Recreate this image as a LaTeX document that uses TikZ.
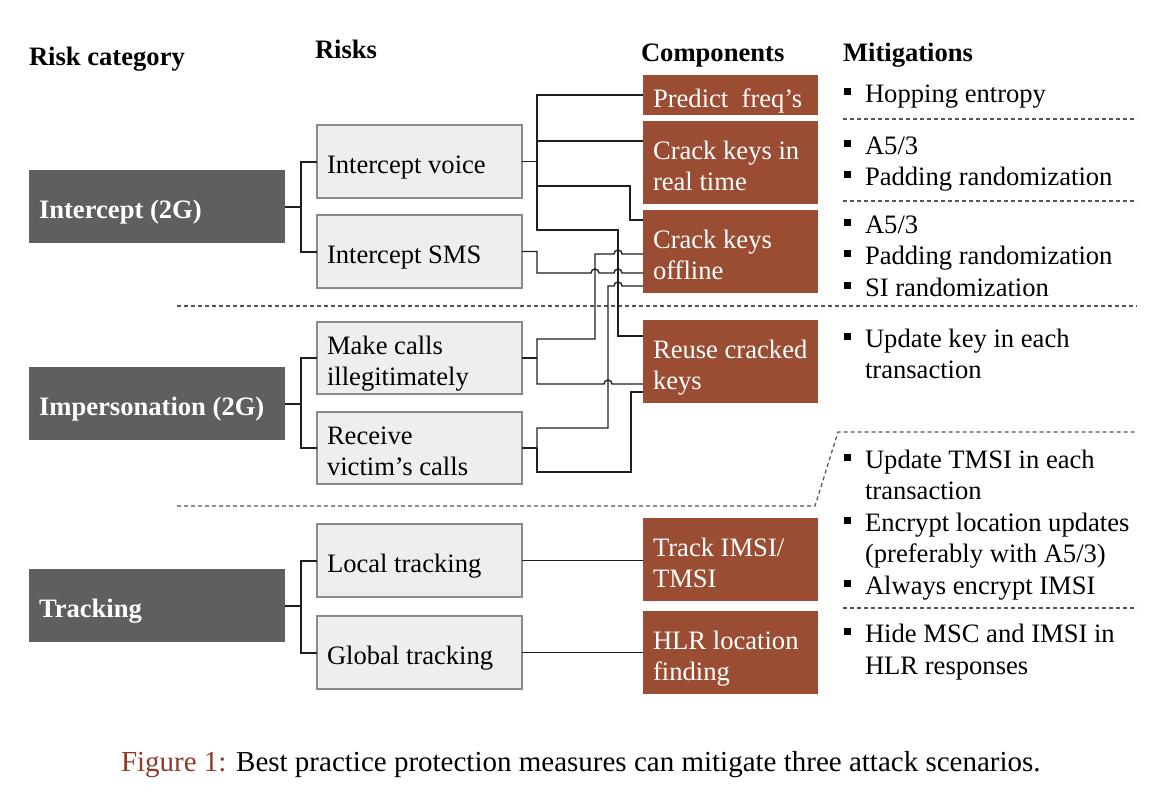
\documentclass[tikz,border=0pt]{standalone}
\usepackage{fontspec}
\setmainfont{Liberation Serif}
\usetikzlibrary{calc}
\definecolor{catgray}{HTML}{5F5F5F}
\definecolor{riskfill}{HTML}{EEEEEE}
\definecolor{riskdraw}{HTML}{8A8A8A}
\definecolor{compc}{HTML}{9B4D34}
\definecolor{capred}{HTML}{8E3B2B}
\definecolor{dashc}{HTML}{555555}
\definecolor{linec}{HTML}{1E1E1E}
\begin{document}
\begin{tikzpicture}[x=1pt,y=-1pt,
  txt/.style={font=\fontsize{26.6}{31}\selectfont, inner sep=0pt, outer sep=0pt},
  hdr/.style={txt, anchor=base west, font=\fontsize{26.6}{31}\selectfont\bfseries},
  mit/.style={txt, anchor=base west},
  boxbase/.style={txt, anchor=north west, inner xsep=10pt, inner ysep=0pt, align=flush left,
              execute at begin node={\rule{0pt}{32pt}},
              execute at end node={\rule[-8pt]{0pt}{8pt}}},
  cat/.style={boxbase, fill=catgray, text=white, font=\fontsize{26.6}{31}\selectfont\bfseries,
              minimum width=256pt, text width=236pt, minimum height=73pt},
  risk/.style={boxbase, fill=riskfill, draw=riskdraw, line width=1.3pt,
              minimum width=205pt, text width=185pt},
  comp/.style={boxbase, fill=compc, text=white, minimum width=175pt, text width=155pt},
  conn/.style={draw=linec, line width=1.4pt},
  catconn/.style={draw=linec, line width=2pt},
  sep/.style={draw=dashc, line width=1.2pt, dash pattern=on 4pt off 3pt},
  bul/.style={fill=black}
]
\useasboundingbox (0,0) rectangle (1174,808);

% headers
\node[hdr] (h1) at (29,66) {Risk category};
\node[hdr] (h2) at (315,59) {Risks};
\node[hdr] (h3) at (641,61) {Components};
\node[hdr] (h4) at (843,61) {Mitigations};

% separators
\draw[sep] (177,306) -- (1137,306);
\draw[sep] (177,506) -- (815,506) -- (838,432) -- (1137,432);
\draw[sep] (843,119) -- (1137,119);
\draw[sep] (843,201) -- (1137,201);
\draw[sep] (843,608) -- (1137,608);

% category boxes
\node[cat] (ic) at (29,170) {Intercept (2G)};
\node[cat] (im) at (29,367) {Impersonation (2G)};
\node[cat] (tr) at (29,569) {Tracking};

% risk boxes
\node[risk, minimum height=73pt] (voice) at (317,125) {Intercept voice};
\node[risk, minimum height=73pt] (sms) at (317,215) {Intercept SMS};
\node[risk, minimum height=72pt] (mk) at (317,322) {Make calls\\illegitimately};
\node[risk, minimum height=72pt] (rc) at (317,412) {Receive\\victim’s calls};
\node[risk, minimum height=73pt] (lt) at (317,524) {Local tracking};
\node[risk, minimum height=73pt] (gt) at (317,616) {Global tracking};

% component boxes
\node[comp, minimum height=40pt] (pf) at (643,75) {Predict~~freq’s};
\node[comp, minimum height=83pt] (crt) at (643,121) {Crack keys in\\real time};
\node[comp, minimum height=83pt] (off) at (643,210) {Crack keys\\offline};
\node[comp, minimum height=83pt] (reuse) at (643,320) {Reuse~cracked\\keys};
\node[comp, minimum height=83pt] (tim) at (643,518) {Track IMSI/\\TMSI};
\node[comp, minimum height=83pt] (hlr) at (643,611) {HLR location\\finding};

% category connectors
\draw[catconn] (ic.east) -- ++(16,0) |- (voice.west);
\draw[catconn] (ic.east) ++(16,0) |- (sms.west);
\draw[catconn] (im.east) -- ++(16,0) |- (mk.west);
\draw[catconn] (im.east) ++(16,0) |- (rc.west);
\draw[catconn] (tr.east) -- ++(16,0) |- (lt.west);
\draw[catconn] (tr.east) ++(16,0) |- (gt.west);

% routing lanes and entry points
\coordinate (lA) at (595,0);
\coordinate (lB) at (608,0);
\coordinate (lC) at (618,0);
\coordinate (lD) at (631,0);
\coordinate (lE) at (630,0);
\coordinate (e0) at ($(off.north west)+(0,10)$);
\coordinate (e1) at ($(off.north west)+(0,44)$);
\coordinate (e2) at ($(off.north west)+(0,63)$);
\coordinate (e3) at ($(off.north west)+(0,76)$);
\coordinate (r1) at ($(reuse.north west)+(0,16)$);
\coordinate (r2) at ($(reuse.north west)+(0,64)$);
\coordinate (r3) at ($(reuse.north west)+(0,72)$);

% intercept voice
\draw[conn] (voice.east) -- ++(15,0) coordinate (vb);
\draw[conn] (vb) |- (pf.west);
\draw[conn] (vb) |- ($(crt.north west)+(0,20)$);
\draw[conn] (vb) |- ($(crt.north west -| lE)+(0,65)$) |- (e0);
\draw[conn] (vb) |- ($(off.north west -| lC)+(0,20)$) |- (r1);

% intercept SMS
\draw[conn] (sms.east) -- ++(15,0) |- ($(e2 -| lA)+(-4,0)$)
  arc[start angle=180, end angle=360, radius=4]
  -- ($(e2 -| lC)+(-4,0)$) arc[start angle=180, end angle=360, radius=4] -- (e2);

% make calls
\draw[conn] (mk.east) -- ++(15,0) coordinate (mb);
\draw[conn] (mb) |- ($(mk.north west -| lA)+(0,17)$) -- (e1 -| lA)
  -- ($(e1 -| lC)+(-4,0)$) arc[start angle=180, end angle=360, radius=4] -- (e1);
\draw[conn] (mb) |- ($(r2 -| lB)+(-4,0)$) arc[start angle=180, end angle=360, radius=4] -- (r2);

% receive victim's calls
\draw[conn] (rc.east) -- ++(15,0) coordinate (rb);
\draw[conn] (rb) |- ($(rc.north west -| lB)+(0,16)$) -- (e3 -| lB)
  -- ($(e3 -| lC)+(-4,0)$) arc[start angle=180, end angle=360, radius=4] -- (e3);
\draw[conn] (rb) |- ($(rc.north west -| lD)+(0,60)$) |- (r3);

% tracking
\draw[conn] (lt.east) -- (lt.east -| tim.west);
\draw[conn] (gt.east) -- (gt.east -| hlr.west);

% mitigations
\foreach \b in {102,154,185,233,264,296,347,468,531,594,642}
  \fill[bul] (844,\b-14) rectangle (851,\b-7);
\node[mit] (m1) at (865,102) {Hopping entropy};
\node[mit] (m2) at (865,154) {A5/3};
\node[mit] (m3) at (865,185) {Padding randomization};
\node[mit] (m4) at (865,233) {A5/3};
\node[mit] (m5) at (865,264) {Padding randomization};
\node[mit] (m6) at (865,296) {SI randomization};
\node[mit] (m7) at (865,347) {Update key in each};
\node[mit] (m8) at (865,378) {transaction};
\node[mit] (m9) at (865,468) {Update TMSI in each};
\node[mit] (m10) at (865,499) {transaction};
\node[mit] (m11) at (865,531) {Encrypt location updates};
\node[mit] (m12) at (865,562) {(preferably with A5/3)};
\node[mit] (m13) at (865,594) {Always encrypt IMSI};
\node[mit] (m14) at (865,642) {Hide MSC and IMSI in};
\node[mit] (m15) at (865,674) {HLR responses};

% caption
\node[mit, font=\fontsize{29}{34}\selectfont] (cap) at (121,771) {\textcolor{capred}{Figure 1:} Best practice protection measures can mitigate three attack scenarios.};
\end{tikzpicture}
\end{document}
